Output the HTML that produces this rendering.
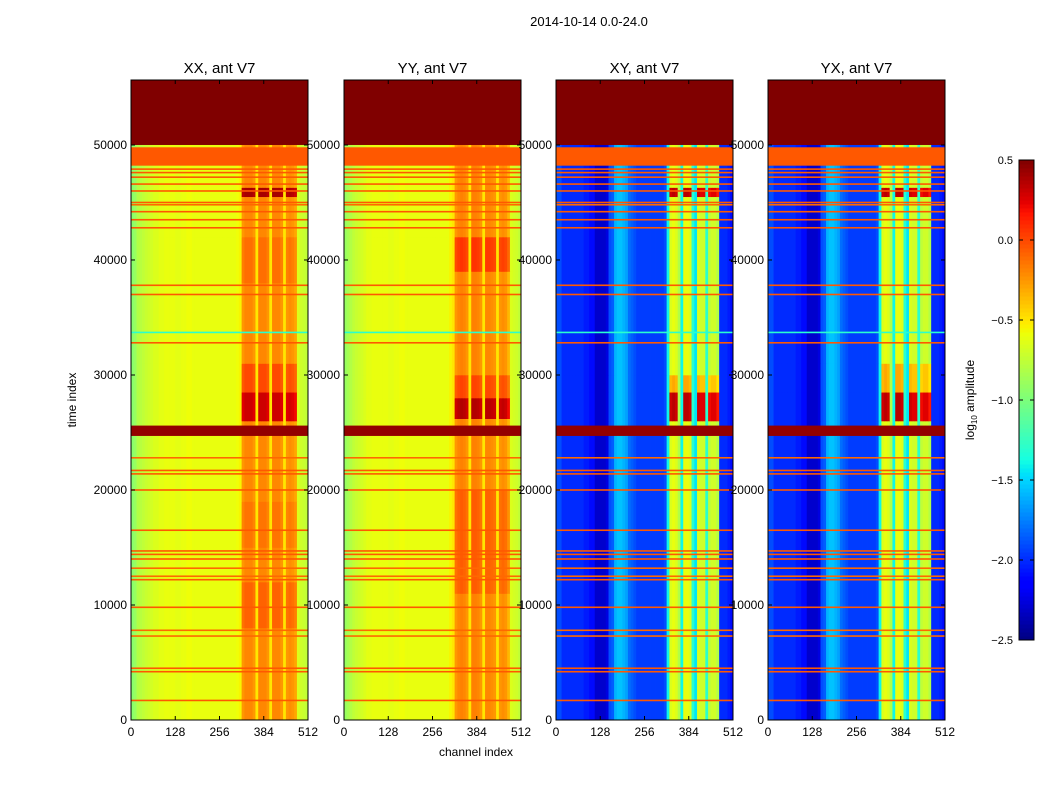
<!DOCTYPE html>
<html><head><meta charset="utf-8">
<style>
body{margin:0;background:#fff;width:1050px;height:800px;overflow:hidden;font-family:"Liberation Sans",sans-serif}
svg text{font-family:"Liberation Sans",sans-serif}
</style></head>
<body>
<svg id="chart" width="1050" height="800" xmlns="http://www.w3.org/2000/svg">
<text x="589" y="26" font-size="13" text-anchor="middle">2014-10-14 0.0-24.0</text>
<g id="panels"></g>
<g id="cbar"></g>
</svg>
<script>
// ---- data ----
const panelTitles = ["XX, ant V7","YY, ant V7","XY, ant V7","YX, ant V7"];
const xTicks = [0,128,256,384,512];
const yTicks = [0,10000,20000,30000,40000,50000];
const cbTicks = [0.5,0.0,-0.5,-1.0,-1.5,-2.0,-2.5];
const autoColBins = [40,41,42,43,44,46,47,48,49,51,52,53,54,56,57,58,59];
const crossColBins = [41,42,43,46,47,48,51,52,53,55,56,57,58];
// 64 bins of 8 channels
const xxProfile = [-0.95,-0.9,-0.8,-0.78,-0.75,-0.72,-0.7,-0.68,-0.65,-0.65,-0.62,-0.62,-0.6,-0.6,-0.6,-0.6,-0.62,-0.62,-0.6,-0.6,-0.58,-0.58,-0.6,-0.6,-0.6,-0.6,-0.6,-0.6,-0.6,-0.6,-0.6,-0.6,-0.6,-0.6,-0.6,-0.6,-0.6,-0.6,-0.58,-0.55,-0.25,-0.2,-0.2,-0.2,-0.25,-0.5,-0.2,-0.2,-0.2,-0.25,-0.5,-0.2,-0.2,-0.2,-0.25,-0.5,-0.25,-0.22,-0.25,-0.3,-0.65,-0.7,-0.72,-0.75];
const yyProfile = [-0.9,-0.85,-0.8,-0.75,-0.72,-0.7,-0.68,-0.65,-0.62,-0.62,-0.6,-0.6,-0.6,-0.6,-0.6,-0.6,-0.62,-0.62,-0.6,-0.6,-0.58,-0.58,-0.6,-0.6,-0.6,-0.6,-0.6,-0.6,-0.6,-0.6,-0.6,-0.6,-0.6,-0.6,-0.6,-0.6,-0.6,-0.6,-0.55,-0.5,-0.25,-0.2,-0.18,-0.2,-0.25,-0.5,-0.18,-0.18,-0.2,-0.25,-0.5,-0.2,-0.2,-0.22,-0.25,-0.5,-0.25,-0.22,-0.25,-0.35,-0.65,-0.68,-0.7,-0.75];
const xyProfile = [-1.9,-1.9,-2.0,-2.0,-2.0,-2.0,-2.0,-2.0,-2.0,-2.0,-2.05,-2.05,-2.1,-2.1,-2.3,-2.3,-2.3,-2.3,-2.25,-1.9,-1.85,-1.6,-1.55,-1.55,-1.6,-1.65,-1.8,-1.85,-1.9,-1.95,-1.95,-1.95,-1.95,-1.95,-1.95,-1.95,-1.95,-1.95,-1.95,-1.9,-1.4,-0.65,-0.6,-0.65,-0.8,-1.4,-0.6,-0.6,-0.65,-1.3,-1.45,-0.65,-0.7,-0.7,-1.3,-0.75,-0.7,-0.7,-0.8,-2.0,-2.0,-2.0,-2.05,-2.1];
const yxProfile = [-1.9,-1.9,-2.0,-2.0,-2.0,-2.0,-2.0,-2.0,-2.0,-2.0,-2.05,-2.05,-2.1,-2.1,-2.3,-2.3,-2.3,-2.3,-2.25,-1.9,-1.85,-1.6,-1.55,-1.55,-1.6,-1.65,-1.8,-1.85,-1.9,-1.95,-1.95,-1.95,-1.95,-1.95,-1.95,-1.95,-1.95,-1.95,-1.95,-1.9,-1.4,-0.65,-0.6,-0.65,-0.8,-1.4,-0.6,-0.6,-0.65,-1.3,-1.45,-0.65,-0.7,-0.7,-1.3,-0.75,-0.7,-0.7,-0.8,-2.0,-2.0,-2.0,-2.05,-2.1];
// [start, end, shift applied to active columns]
const xxBlocks = [[8000,12000,0.12],[15000,19000,0.06],[26000,28500,0.5],[28500,31000,0.2],[38000,42000,0.08],[45500,46300,0.6]];
const yyBlocks = [[11000,20000,0.12],[26200,28000,0.55],[28000,30000,0.2],[39000,42000,0.25]];
const xyBlocks = [[26000,28500,0.95],[28500,30000,0.3],[45500,46300,0.95]];
const yxBlocks = [[26000,28500,0.95],[28500,31000,0.3],[45500,46300,0.95]];
// horizontal full-width rows
const lineTimes = [1700,4200,4500,7300,7800,9800,12200,12500,13200,14000,14400,14700,16500,20000,21400,21700,22800,32800,33700,37000,37800,42800,43500,44200,44800,45000,46000,46600,47200,47600,47900];
const lineValues = [-0.05,-0.05,-0.05,-0.1,-0.1,-0.05,-0.05,-0.1,-0.1,-0.05,-0.05,-0.05,-0.05,-0.05,-0.05,-0.05,-0.1,-0.05,-1.3,-0.05,-0.05,-0.05,-0.05,-0.05,-0.1,-0.05,-0.05,-0.05,-0.05,-0.05,-0.05];
const bandStarts = [24700,48200,50000];
const bandEnds = [25600,49800,55650];
const bandValues = [0.45,-0.05,0.5];

// ---- layout ----
const panelX = [131,344,556,768], PW=177, PT=80, PB=720;
const tMax=55650, vMin=-2.5, vMax=0.5;
const profiles=[xxProfile,yyProfile,xyProfile,yxProfile];
const blocks=[xxBlocks,yyBlocks,xyBlocks,yxBlocks];
const colSets=[autoColBins,autoColBins,crossColBins,crossColBins];
function yS(t){return PB-(t/tMax)*(PB-PT);}
function xS(p,c){return panelX[p]+c/512*PW;}
function interp(pts,t){for(let i=1;i<pts.length;i++){if(t<=pts[i][0]){const a=pts[i-1],b=pts[i];return a[1]+(b[1]-a[1])*(t-a[0])/(b[0]-a[0]);}}return pts[pts.length-1][1];}
function jet(v){let t=(v-vMin)/(vMax-vMin);t=Math.max(0,Math.min(1,t));
 const r=interp([[0,0],[0.35,0],[0.66,1],[0.89,1],[1,0.5]],t),g=interp([[0,0],[0.125,0],[0.375,1],[0.64,1],[0.91,0],[1,0]],t),b=interp([[0,0.5],[0.11,1],[0.34,1],[0.65,0],[1,0]],t);
 return `rgb(${Math.round(r*255)},${Math.round(g*255)},${Math.round(b*255)})`;}
const NS="http://www.w3.org/2000/svg";
function mk(tag,attrs,parent){const e=document.createElementNS(NS,tag);for(const k in attrs)e.setAttribute(k,attrs[k]);parent.appendChild(e);return e;}
const root=document.getElementById('panels');
panelTitles.forEach((title,p)=>{
 const g=mk('g',{},root);
 
 
 const prof=profiles[p], blk=blocks[p], cols=colSets[p];
 let bps=[0,tMax];blk.forEach(b=>{bps.push(b[0],b[1]);});bps=[...new Set(bps)].sort((a,b)=>a-b);
 for(let s=0;s<bps.length-1;s++){
  const t0=bps[s],t1=bps[s+1],mid=(t0+t1)/2;
  let shift=0;blk.forEach(b=>{if(mid>=b[0]&&mid<b[1])shift=b[2];});
  for(let i=0;i<prof.length;i++){
   const v=prof[i]+(cols.includes(i)?shift:0);
   const r=mk('rect',{x:xS(p,i*8),y:yS(t1),width:PW/64+0.4,height:yS(t0)-yS(t1)+0.3,fill:jet(v)},g);
   
   
  }
 }
 lineTimes.forEach((t,k)=>{
  const r=mk('rect',{x:panelX[p],y:yS(t)-0.8,width:PW,height:1.6,fill:jet(lineValues[k])},g);
  
  
 });
 bandStarts.forEach((s,k)=>{
  const r=mk('rect',{x:panelX[p],y:yS(bandEnds[k]),width:PW,height:yS(s)-yS(bandEnds[k]),fill:jet(bandValues[k])},g);
  
  
 });
 const f=mk('rect',{x:panelX[p],y:PT,width:PW,height:PB-PT,fill:'none',stroke:'#000','stroke-width':1},g);
 
 
 const tt=mk('text',{x:panelX[p]+PW/2,y:73,'font-size':15,'text-anchor':'middle'},g);tt.textContent=title;
 
 
 xTicks.forEach(c=>{const x=xS(p,c);
  mk('line',{x1:x,x2:x,y1:PB,y2:PB-4,stroke:'#000'},g);mk('line',{x1:x,x2:x,y1:PT,y2:PT+4,stroke:'#000'},g);
  const l=mk('text',{x:x,y:PB+16,'font-size':12,'text-anchor':'middle'},g);l.textContent=c;
  
  });
 yTicks.forEach(t=>{const y=yS(t);
  mk('line',{x1:panelX[p],x2:panelX[p]+4,y1:y,y2:y,stroke:'#000'},g);mk('line',{x1:panelX[p]+PW,x2:panelX[p]+PW-4,y1:y,y2:y,stroke:'#000'},g);
  const l=mk('text',{x:panelX[p]-4,y:y+4,'font-size':12,'text-anchor':'end'},g);l.textContent=t;
  
  });
});
const svg=document.getElementById('chart');
const yl=mk('text',{x:0,y:0,'font-size':12,'text-anchor':'middle',transform:'translate(76,400) rotate(-90)'},svg);yl.textContent='time index';


const xl=mk('text',{x:476,y:756,'font-size':12,'text-anchor':'middle'},svg);xl.textContent='channel index';


// colorbar
const cb=document.getElementById('cbar');
const CX=1019,CW=15,CT=160,CB=640;
for(let i=0;i<120;i++){const v0=vMin+(vMax-vMin)*i/120;const y=CB-(i+1)*(CB-CT)/120;
 mk('rect',{x:CX,y:y,width:CW,height:(CB-CT)/120+0.5,fill:jet(v0+(vMax-vMin)/240)},cb);}
mk('rect',{x:CX,y:CT,width:CW,height:CB-CT,fill:'none',stroke:'#000'},cb);
cbTicks.forEach(v=>{const y=CB-(v-vMin)/(vMax-vMin)*(CB-CT);
 mk('line',{x1:CX,x2:CX+4,y1:y,y2:y,stroke:'#000'},cb);
 mk('line',{x1:CX+CW-4,x2:CX+CW,y1:y,y2:y,stroke:'#000'},cb);
 const l=mk('text',{x:CX-6,y:y+4,'font-size':11,'text-anchor':'end'},cb);l.textContent=v.toFixed(1).replace('-','\u2212');
 
 });
const cl=mk('text',{x:0,y:0,'font-size':12,'text-anchor':'middle',transform:'translate(974,400) rotate(-90)'},svg);
cl.innerHTML='log<tspan font-size="8" dy="3">10</tspan><tspan dy="-3"> amplitude</tspan>';


</script>
</body></html>
